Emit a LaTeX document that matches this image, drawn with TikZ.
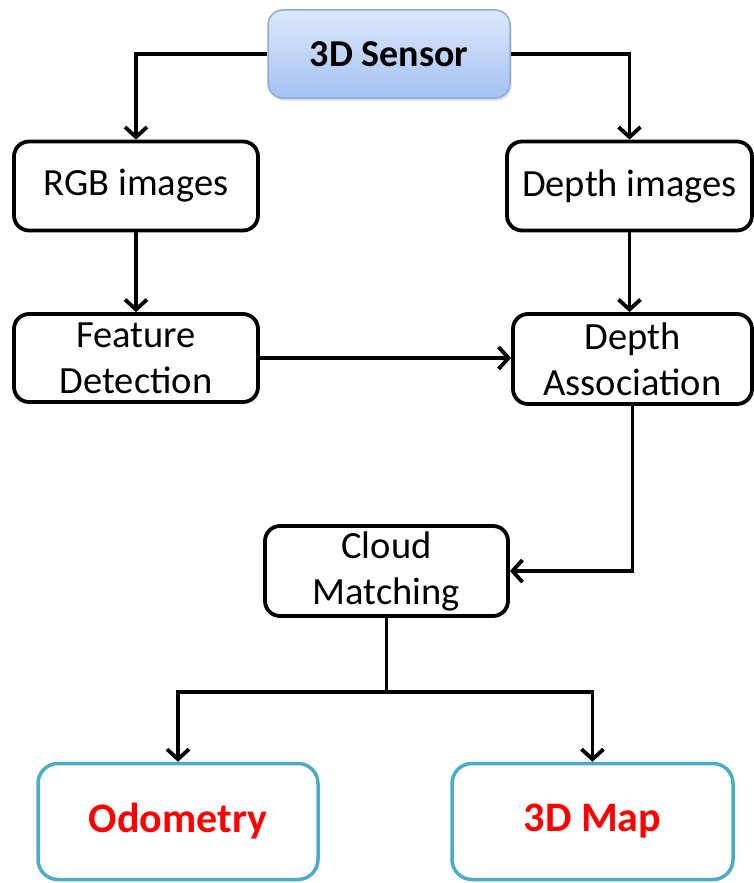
\documentclass[tikz,border=0pt]{standalone}
\usepackage{fontspec}
\setmainfont{Carlito}
\usetikzlibrary{arrows.meta,shadows,calc}

\definecolor{sensortop}{HTML}{DCE8FB}
\definecolor{sensorbot}{HTML}{A4C2F2}
\definecolor{sensorline}{HTML}{8AAAE0}
\definecolor{outline}{HTML}{4BACC6}

\tikzset{
  stepbox/.style={draw=black, line width=3.8pt, rounded corners=15pt, fill=white,
    align=center, inner sep=0pt, font=\fontsize{38.5}{46}\selectfont},
  sensorbox/.style={draw=sensorline, line width=1.5pt, rounded corners=15pt,
    top color=sensortop, bottom color=sensorbot,
    drop shadow={shadow xshift=1.5pt, shadow yshift=-2.5pt, opacity=0.25},
    font=\fontsize{38}{46}\selectfont\bfseries},
  resultbox/.style={draw=outline, line width=3.5pt, rounded corners=20pt, fill=white,
    text=red, font=\fontsize{42}{50}\selectfont\bfseries},
  flow/.style={line width=3.8pt, -{Straight Barb[length=10pt,width=22pt,line width=3.8pt]}},
  link/.style={line width=3.8pt}
}

\begin{document}
\begin{tikzpicture}[x=1pt, y=-1pt]
  \useasboundingbox (0,0) rectangle (754,883);

  % boxes
  \node[sensorbox, minimum width=242pt, minimum height=88pt] (sensor) at (389,54) {3D Sensor};
  \node[stepbox, minimum width=244pt, minimum height=89pt] (rgb) at (136,186) {RGB images};
  \node[stepbox, minimum width=245pt, minimum height=89pt] (depthimg) at (629.5,186) {Depth images};
  \node[stepbox, minimum width=244pt, minimum height=88pt] (feat) at (136,358) {Feature\\Detection};
  \node[stepbox, minimum width=239pt, minimum height=90pt] (assoc) at (632.5,359) {Depth\\Association};
  \node[stepbox, minimum width=243pt, minimum height=90pt] (cloud) at (386.5,571) {Cloud\\Matching};
  \node[resultbox, minimum width=280pt, minimum height=116pt] (odo) at (178,821.5) {Odometry};
  \node[resultbox, minimum width=281pt, minimum height=116pt] (map) at (592.5,821.5) {3D Map};

  % connectors
  \draw[flow] (sensor.west) -| (rgb.north);
  \draw[flow] (sensor.east) -| (depthimg.north);
  \draw[flow] (rgb.south) -- (feat.north);
  \draw[flow] (depthimg.south) -- (depthimg.south |- assoc.north);
  \draw[flow] (feat.east) -- (feat.east -| assoc.west);
  \draw[flow] (assoc.south) |- (cloud.east);
  \coordinate (split) at ($(cloud.south)+(0,74)$);
  \draw[link] (cloud.south) -- (split);
  \draw[flow] (split) -| (odo.north);
  \draw[flow] (split) -| (map.north);
\end{tikzpicture}
\end{document}
